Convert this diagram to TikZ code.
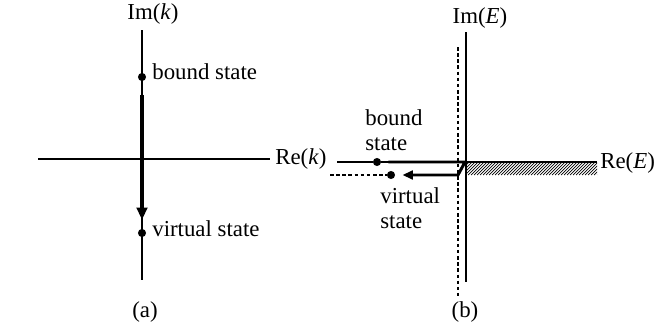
\documentclass[tikz,border=0pt]{standalone}
\usepackage{fontspec}
\setmainfont{Liberation Serif}
\usepackage{tikz}
\usetikzlibrary{arrows.meta, positioning, calc}
\tikzset{
    axis/.style={line width=0.7pt},
    cut/.style={line width=0.7pt, dashed, dash pattern=on 2pt off 1.5pt},
    dot/.style={circle, fill=black, inner sep=0pt, minimum size=4.6pt},
    lbl/.style={font=\fontsize{13}{14.5}\selectfont, inner sep=0pt, align=left},
    hatch/.style={line width=0.4pt},
    thickarrow/.style={line width=2pt, -{Triangle[length=7pt, width=6pt]}},
    patharrow/.style={line width=1.7pt, -{Triangle[length=6pt, width=5pt]}, line join=round}
}

\begin{document}
\begin{tikzpicture}[x=0.02cm, y=-0.02cm]
            \useasboundingbox (0,0) rectangle (663,325);

            % (a) the k plane
            \coordinate (kTop) at (142,30);
            \coordinate (kBot) at (142,280);
            \coordinate (kLeft) at (38,159);
            \coordinate (kRight) at (270,159);
            \node[lbl, anchor=south] (imk) at (153,25) {Im(\textit{k})};
            \node[lbl, anchor=west] (rek) at (275,159) {Re(\textit{k})};
            \node[dot] (bk) at (142,77) {};
            \node[dot] (vk) at (142,233) {};
            \node[lbl, anchor=west] (bktxt) at (152,72) {bound state};
            \node[lbl, anchor=west] (vktxt) at (152,229) {virtual state};
            \node[lbl] (capa) at (145,312) {(a)};

            \draw[axis] (kTop) -- (kBot);
            \draw[axis] (kLeft) -- (kRight);
            \draw[thickarrow, shorten <=8pt, shorten >=5pt] (bk) -- (vk);

            % (b) the E plane
            \coordinate (eTop) at (466,32);
            \coordinate (eBot) at (466,282);
            \coordinate (dTop) at (458,47);
            \coordinate (dBot) at (458,297);
            \coordinate (eLeft) at (337,162);
            \coordinate (eEnd) at (597,162);
            \coordinate (dLeft) at (330,175);
            \coordinate (cA) at (465,162);
            \coordinate (cB) at (458,175);
            \node[lbl, anchor=south] (imE) at (480,29) {Im(\textit{E})};
            \node[lbl, anchor=west] (reE) at (600,163) {Re(\textit{E})};
            \node[dot] (bE) at (377,162) {};
            \node[dot] (vE) at (391,175) {};
            \node[lbl, anchor=west] (bEtxt) at (365,130) {bound\\state};
            \node[lbl, anchor=west] (vEtxt) at (380,208) {virtual\\state};
            \node[lbl] (capb) at (465,312) {(b)};

            % cut along positive real axis
            \begin{scope}
                \clip (466,162) rectangle (597,175);
                \foreach \x in {453,456,...,600}
                    \draw[hatch] (\x,175) -- (\x+13,162);
            \end{scope}
            \draw[axis] (eTop) -- (eBot);
            \draw[cut] (dTop) -- (dBot);
            \draw[axis] (eLeft) -- (bE);
            \draw[axis] (bE) -- (eEnd);
            \draw[cut] (dLeft) -- (vE);
            \draw[patharrow, shorten <=4pt, shorten >=4pt] (bE) -- (cA) -- (cB) -- (vE);
        \end{tikzpicture}
\end{document}
